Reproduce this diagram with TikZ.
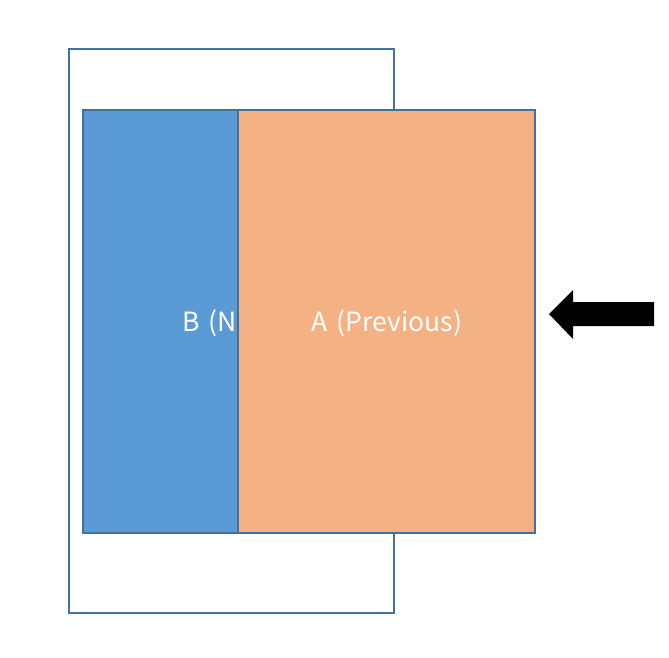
\documentclass[tikz,border=0pt]{standalone}
\usepackage{fontspec}
\setmainfont{Noto Sans CJK KR}
\definecolor{edgeblue}{HTML}{41719C}
\definecolor{fillblue}{HTML}{5B9BD5}
\definecolor{fillorange}{HTML}{F4B183}
\begin{document}
\begin{tikzpicture}[x=1pt,y=-1pt,
  box/.style={draw=edgeblue,line width=1.3pt,inner sep=0pt,outer sep=0pt},
  lbl/.style={text=white,font=\fontsize{26.5}{30}\selectfont,inner sep=0pt}]
\useasboundingbox[fill=white] (0,0) rectangle (669,657);
\node[box,fill=white,minimum width=325pt,minimum height=564pt] (outer) at (231.5,331) {};
\node[box,fill=fillblue,minimum width=155pt,minimum height=423pt] (bnew) at (160.5,321.5) {};
\node[lbl,anchor=west] (btext) at (182,323) {B\,\,(New)};
\node[box,fill=fillorange,minimum width=297pt,minimum height=423pt] (aprev) at (386.5,321.5) {};
\node[lbl] (atext) at (387,323) {A\,\,(Previous)};
\coordinate (tip) at (549,314);
\fill[black] (tip) -- (573,290) -- (573,302) -- (654,302) -- (654,326) -- (573,326) -- (573,339) -- cycle;
\end{tikzpicture}
\end{document}
